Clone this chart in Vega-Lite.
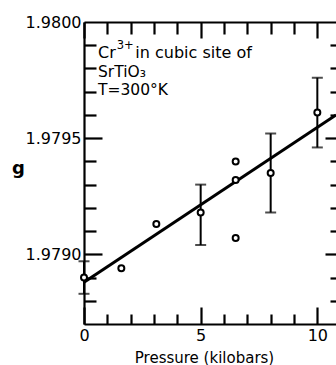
{
  "$schema": "https://vega.github.io/schema/vega-lite/v6.json",
  "width": 252,
  "height": 302,
  "autosize": {"type": "none"},
  "padding": {"left": 84, "top": 22, "right": 0, "bottom": 41},
  "background": "white",
  "config": {
    "view": {"stroke": null},
    "font": "DejaVu Sans",
    "text": {"color": "black", "font": "DejaVu Sans", "align": "left", "baseline": "alphabetic"},
    "axis": {
      "grid": false,
      "domainColor": "black",
      "domainWidth": 2.2,
      "tickColor": "black",
      "tickWidth": 2.2,
      "labelColor": "black",
      "titleColor": "black",
      "labelFont": "DejaVu Sans",
      "titleFont": "DejaVu Sans",
      "labelFlush": false,
      "labelOverlap": false
    }
  },
  "datasets": {
    "fit": [
      {"pressure": 0, "g": 1.97888},
      {"pressure": 10.8, "g": 1.9796}
    ],
    "bars": [
      {"pressure": 0, "lo": 1.97883, "hi": 1.97897},
      {"pressure": 5, "lo": 1.97904, "hi": 1.9793},
      {"pressure": 8, "lo": 1.97918, "hi": 1.97952},
      {"pressure": 10, "lo": 1.97946, "hi": 1.97976}
    ],
    "pts": [
      {"pressure": 0, "g": 1.9789},
      {"pressure": 1.6, "g": 1.97894},
      {"pressure": 3.1, "g": 1.97913},
      {"pressure": 5, "g": 1.97918},
      {"pressure": 6.5, "g": 1.9794},
      {"pressure": 6.5, "g": 1.97932},
      {"pressure": 6.5, "g": 1.97907},
      {"pressure": 8, "g": 1.97935},
      {"pressure": 10, "g": 1.97961}
    ],
    "one": [{}]
  },
  "resolve": {"axis": {"x": "independent", "y": "independent"}},
  "layer": [
    {
      "data": {"name": "fit"},
      "mark": {"type": "line", "color": "black", "strokeWidth": 3},
      "encoding": {
        "x": {
          "field": "pressure", "type": "quantitative",
          "scale": {"domain": [0, 10.8], "nice": false, "zero": false},
          "axis": {
            "orient": "bottom", "values": [0, 5, 10], "ticks": false, "domain": true,
            "labelPadding": 3, "labelFontSize": 16,
            "title": "Pressure (kilobars)", "titleFontSize": 15, "titleFontWeight": "normal",
            "titleX": 120, "titleY": 38, "titleAlign": "center", "titleBaseline": "alphabetic"
          }
        },
        "y": {
          "field": "g", "type": "quantitative",
          "scale": {"domain": [1.9787, 1.98], "nice": false, "zero": false},
          "axis": {
            "orient": "left", "values": [1.979, 1.9795, 1.98], "format": ".4f",
            "ticks": false, "domain": true, "labelPadding": 3, "labelFontSize": 16,
            "title": "g", "titleAngle": 0, "titleX": -66, "titleY": 151,
            "titleFontSize": 18, "titleFontWeight": "bold", "titleAlign": "center", "titleBaseline": "alphabetic"
          }
        }
      }
    },
    {
      "data": {"name": "bars"},
      "mark": {"type": "rule", "color": "black", "strokeWidth": 2},
      "encoding": {
        "x": {
          "field": "pressure", "type": "quantitative",
          "scale": {"domain": [0, 10.8], "nice": false, "zero": false},
          "axis": {
            "orient": "bottom", "values": [0, 1, 2, 3, 4, 5, 6, 7, 8, 9, 10],
            "labels": false, "domain": false, "title": null,
            "tickSize": {"condition": {"test": "datum.value % 5 === 0", "value": -17}, "value": -10}
          }
        },
        "y": {
          "field": "lo", "type": "quantitative",
          "scale": {"domain": [1.9787, 1.98], "nice": false, "zero": false},
          "axis": {
            "orient": "left",
            "values": [1.9788, 1.9789, 1.979, 1.9791, 1.9792, 1.9793, 1.9794, 1.9795, 1.9796, 1.9797, 1.9798, 1.9799],
            "labels": false, "domain": false, "title": null,
            "tickSize": {"condition": {"test": "abs(datum.value * 2000 - round(datum.value * 2000)) < 0.01", "value": -18}, "value": -12}
          }
        },
        "y2": {"field": "hi"}
      }
    },
    {
      "data": {"name": "bars"},
      "mark": {"type": "tick", "orient": "horizontal", "color": "black", "size": 11, "thickness": 2},
      "encoding": {
        "x": {
          "field": "pressure", "type": "quantitative",
          "scale": {"domain": [0, 10.8], "nice": false, "zero": false},
          "axis": {
            "orient": "top", "values": [0, 1, 2, 3, 4, 5, 6, 7, 8, 9, 10],
            "labels": false, "domain": true, "title": null,
            "tickSize": {"condition": {"test": "datum.value % 5 === 0", "value": -16}, "value": -12}
          }
        },
        "y": {
          "field": "lo", "type": "quantitative",
          "scale": {"domain": [1.9787, 1.98], "nice": false, "zero": false},
          "axis": {
            "orient": "right",
            "values": [1.9788, 1.9789, 1.979, 1.9791, 1.9792, 1.9793, 1.9794, 1.9795, 1.9796, 1.9797, 1.9798, 1.9799],
            "labels": false, "domain": false, "title": null,
            "tickSize": {"condition": {"test": "abs(datum.value * 2000 - round(datum.value * 2000)) < 0.01", "value": -11}, "value": -6}
          }
        }
      }
    },
    {
      "data": {"name": "bars"},
      "mark": {"type": "tick", "orient": "horizontal", "color": "black", "size": 11, "thickness": 2},
      "encoding": {
        "x": {"field": "pressure", "type": "quantitative", "scale": {"domain": [0, 10.8], "nice": false, "zero": false}, "axis": null},
        "y": {"field": "hi", "type": "quantitative", "scale": {"domain": [1.9787, 1.98], "nice": false, "zero": false}, "axis": null}
      }
    },
    {
      "data": {"name": "pts"},
      "mark": {"type": "circle", "fill": "white", "stroke": "black", "strokeWidth": 2, "size": 36, "opacity": 1},
      "encoding": {
        "x": {"field": "pressure", "type": "quantitative", "scale": {"domain": [0, 10.8], "nice": false, "zero": false}, "axis": null},
        "y": {"field": "g", "type": "quantitative", "scale": {"domain": [1.9787, 1.98], "nice": false, "zero": false}, "axis": null}
      }
    },
    {
      "data": {"name": "one"},
      "mark": {"type": "text", "fontSize": 16},
      "encoding": {
        "x": {"datum": 0.6, "type": "quantitative", "scale": {"domain": [0, 10.8], "nice": false, "zero": false}, "axis": null},
        "y": {"datum": 1.979843, "type": "quantitative", "scale": {"domain": [1.9787, 1.98], "nice": false, "zero": false}, "axis": null},
        "text": {"value": "Cr"}
      }
    },
    {
      "data": {"name": "one"},
      "mark": {"type": "text", "fontSize": 11.5},
      "encoding": {
        "x": {"datum": 1.4, "type": "quantitative", "scale": {"domain": [0, 10.8], "nice": false, "zero": false}, "axis": null},
        "y": {"datum": 1.979884, "type": "quantitative", "scale": {"domain": [1.9787, 1.98], "nice": false, "zero": false}, "axis": null},
        "text": {"value": "3+"}
      }
    },
    {
      "data": {"name": "one"},
      "mark": {"type": "text", "fontSize": 16},
      "encoding": {
        "x": {"datum": 2.2, "type": "quantitative", "scale": {"domain": [0, 10.8], "nice": false, "zero": false}, "axis": null},
        "y": {"datum": 1.979843, "type": "quantitative", "scale": {"domain": [1.9787, 1.98], "nice": false, "zero": false}, "axis": null},
        "text": {"value": "in cubic site of"}
      }
    },
    {
      "data": {"name": "one"},
      "mark": {"type": "text", "fontSize": 15.5},
      "encoding": {
        "x": {"datum": 0.6, "type": "quantitative", "scale": {"domain": [0, 10.8], "nice": false, "zero": false}, "axis": null},
        "y": {"datum": 1.979765, "type": "quantitative", "scale": {"domain": [1.9787, 1.98], "nice": false, "zero": false}, "axis": null},
        "text": {"value": "SrTiO₃"}
      }
    },
    {
      "data": {"name": "one"},
      "mark": {"type": "text", "fontSize": 15.5},
      "encoding": {
        "x": {"datum": 0.6, "type": "quantitative", "scale": {"domain": [0, 10.8], "nice": false, "zero": false}, "axis": null},
        "y": {"datum": 1.979686, "type": "quantitative", "scale": {"domain": [1.9787, 1.98], "nice": false, "zero": false}, "axis": null},
        "text": {"value": "T=300°K"}
      }
    }
  ]
}
